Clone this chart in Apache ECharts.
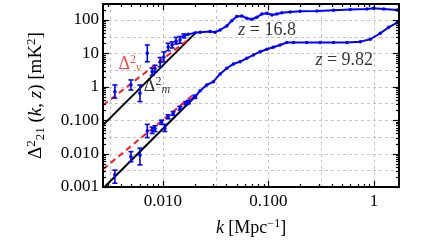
<!DOCTYPE html>
<html><head><meta charset="utf-8">
<script src="https://cdn.jsdelivr.net/npm/echarts@6/dist/echarts.min.js"></script>
<style>html,body{margin:0;padding:0;background:#fff}#c{width:432px;height:243px}</style>
</head><body><div id="c"></div>
<script>
// ---- axis ranges / tick labels ----
const xMin = 0.0027, xMax = 1.73, yMin = 0.001, yMax = 300;
const xTickLabels = [0.01, 0.1, 1];
const yTickLabels = [0.001, 0.01, 0.1, 1, 10, 100];

// ---- z = 16.8 simulated curve ----
const kHigh = [0.0158,0.0173,0.02,0.0225,0.0279,0.0312,0.0348,0.0403,0.0449,0.0501,0.0559,0.0623,0.0695,0.0776,0.0865,0.0966,0.108,0.120,0.134,0.161,0.200,0.288,0.414,0.597,0.859,0.993,1.24,1.66];
const dHigh = [33,37,41,43,45,43,50,66,95,126,132,112,105,120,151,158,141,151,165,174,182,186,195,204,214,224,214,199];

// ---- z = 9.82 simulated curve ----
const kLow = [0.0165,0.0201,0.0225,0.026,0.0301,0.0348,0.0403,0.0466,0.0538,0.0623,0.0721,0.0834,0.0966,0.111,0.129,0.149,0.173,0.231,0.309,0.414,0.555,0.743,0.925,1.15,1.38,1.66];
const dLow = [0.32,0.5,0.76,1.13,1.42,2.42,3.58,4.82,5.64,7.12,8.96,11.2,13.3,15.2,17.8,21,21,21,21,21,21,22.4,26.4,40,60,83];

// ---- measured points with error bars, z = 16.8 ----
const kErrHigh  = [0.0035,0.00497,0.00605,0.0071,0.0079,0.0084,0.0094,0.0102,0.0112,0.0122,0.0133,0.0145,0.0158];
const dErrHigh  = [0.71,1.13,0.64,10,2.8,3.5,5.5,7.8,15.5,17.8,23,25,33];
const loErrHigh = [0.46,0.80,0.36,5.6,2.2,2.8,4.0,5.5,12,14.5,19,20,29];
const hiErrHigh = [1.13,1.6,1.13,17.8,3.6,4.4,7.5,11,20,22,30,32,38];

// ---- measured points with error bars, z = 9.82 ----
const kErrLow  = [0.0035,0.00497,0.00605,0.0071,0.0079,0.0084,0.0097,0.0104,0.0112,0.0125,0.0145,0.0165,0.0174,0.0201];
const dErrLow  = [0.0023,0.0081,0.0091,0.0475,0.05,0.056,0.088,0.057,0.127,0.16,0.23,0.32,0.35,0.5];
const loErrLow = [0.0013,0.0057,0.0046,0.030,0.04,0.046,0.075,0.046,0.11,0.14,0.2,0.29,0.31,0.45];
const hiErrLow = [0.0032,0.0114,0.0145,0.075,0.062,0.068,0.1,0.075,0.145,0.18,0.26,0.36,0.39,0.56];

// ---- model power laws ----
const kModelM = [0.0027, 0.0209];
const dModelMHigh = [0.071, 44.7];
const dModelMLow = [0.0009, 0.57];
const kModelV = [0.0027, 0.018];
const dModelVHigh = [0.28, 28.3];
const kModelVLow = [0.0027, 0.0193];
const dModelVLow = [0.0034, 0.57];

// ---- build helpers ----
const zip = (a, b) => a.map((v, i) => [v, b[i]]);
const zipErr = (k, d, lo, hi) => k.map((v, i) => [v, d[i], lo[i], hi[i]]);
const BLUE = '#0000ff', RED = '#ff1a1a';
const SERIF = '"Liberation Serif", "DejaVu Serif", serif';

function logTicks(lo, hi) {
  const out = [];
  for (let d = Math.floor(Math.log10(lo)); d <= Math.ceil(Math.log10(hi)); d++) {
    for (let f = 1; f <= 9; f++) {
      const v = f * Math.pow(10, d);
      if (v >= lo * 0.999 && v <= hi * 1.001) out.push([v, f === 1 ? 1 : 0]);
    }
  }
  return out;
}
function halfDecades(lo, hi) {
  const out = [];
  for (let n = Math.floor(2 * Math.log10(lo)); n <= Math.ceil(2 * Math.log10(hi)); n++) {
    const v = Math.pow(10, n / 2);
    if (v > lo * 1.001 && v < hi * 0.999) out.push(v);
  }
  return out;
}

// decoration data: [x, y, kind, major]
const decoTicks = [];
logTicks(xMin, xMax).forEach(t => decoTicks.push([t[0], yMin, 0, t[1]]));
logTicks(yMin, yMax).forEach(t => decoTicks.push([xMin, t[0], 1, t[1]]));
const decoGrid = [];
halfDecades(xMin, xMax).forEach(v => decoGrid.push([v, yMin, 0]));
halfDecades(yMin, yMax).forEach(v => decoGrid.push([xMin, v, 1]));

const fmt = v => {
  const l = Math.log10(v);
  if (Math.abs(l - Math.round(l)) > 1e-6) return '';
  return v < 1 ? v.toFixed(3) : String(Math.round(v));
};

const chart = echarts.init(document.getElementById('c'), null, {renderer: 'canvas'});
chart.setOption({
  animation: false,
  backgroundColor: '#fff',
  grid: {left: 103, top: 4, width: 296, height: 183, show: true, borderColor: '#000', borderWidth: 2, backgroundColor: 'transparent', z: 20},
  xAxis: {
    type: 'log', logBase: 10, min: xMin, max: xMax,
    axisLine: {show: false}, axisTick: {show: false}, splitLine: {show: false},
    axisLabel: {formatter: fmt, showMinLabel: false, showMaxLabel: false, interval: 0, fontSize: 17, fontFamily: SERIF, color: '#000', margin: 6},
    name: '{i|k} [Mpc{sup|−1}]', nameLocation: 'middle', nameGap: 31,
    nameTextStyle: {fontSize: 18, fontFamily: SERIF, color: '#000',
      rich: {i: {fontStyle: 'italic', fontSize: 18, fontFamily: SERIF}, sup: {fontSize: 12, fontFamily: SERIF, padding: [0,0,8,0]}}}
  },
  yAxis: {
    type: 'log', logBase: 10, min: yMin, max: yMax,
    axisLine: {show: false}, axisTick: {show: false}, splitLine: {show: false},
    axisLabel: {formatter: fmt, showMinLabel: true, showMaxLabel: false, interval: 0, fontSize: 17, fontFamily: SERIF, color: '#000', margin: 4},
    name: 'Δ{sup|2}{sub|21} ({i|k}, {i|z}) [mK{sup|2}]', nameLocation: 'middle', nameGap: 56, nameRotate: 90,
    nameTextStyle: {fontSize: 19, fontFamily: SERIF, color: '#000',
      rich: {i: {fontStyle: 'italic', fontSize: 19, fontFamily: SERIF},
             sup: {fontSize: 13, fontFamily: SERIF, padding: [0,0,9,0]},
             sub: {fontSize: 13, fontFamily: SERIF, padding: [9,0,0,0]}}}
  },
  series: [
    {
      type: 'custom', name: 'grid', z: 1, silent: true, clip: false,
      data: decoGrid,
      renderItem(params, api) {
        const cs = params.coordSys;
        const style = {stroke: '#c4c4c4', lineWidth: 1, lineDash: [3, 3]};
        if (api.value(2) === 0) {
          const x = Math.round(api.coord([api.value(0), yMin])[0]) + 0.5;
          return {type: 'line', shape: {x1: x, y1: cs.y, x2: x, y2: cs.y + cs.height}, style};
        }
        const y = Math.round(api.coord([xMin, api.value(1)])[1]) + 0.5;
        return {type: 'line', shape: {x1: cs.x, y1: y, x2: cs.x + cs.width, y2: y}, style};
      }
    },
    {
      type: 'custom', name: 'ticks', z: 30, silent: true, clip: false,
      data: decoTicks,
      renderItem(params, api) {
        const cs = params.coordSys;
        const len = api.value(3) ? 6 : 3;
        const style = {stroke: '#000', lineWidth: 1.2};
        if (api.value(2) === 0) {
          const x = Math.round(api.coord([api.value(0), yMin])[0]) + 0.5;
          return {type: 'group', children: [
            {type: 'line', shape: {x1: x, y1: cs.y + cs.height, x2: x, y2: cs.y + cs.height - len}, style},
            {type: 'line', shape: {x1: x, y1: cs.y, x2: x, y2: cs.y + len}, style}
          ]};
        }
        const y = Math.round(api.coord([xMin, api.value(1)])[1]) + 0.5;
        return {type: 'group', children: [
          {type: 'line', shape: {x1: cs.x, y1: y, x2: cs.x + len, y2: y}, style},
          {type: 'line', shape: {x1: cs.x + cs.width, y1: y, x2: cs.x + cs.width - len, y2: y}, style}
        ]};
      }
    },
    {type: 'line', name: 'Δm high', data: zip(kModelM, dModelMHigh), showSymbol: false, lineStyle: {color: '#000', width: 2}, z: 5},
    {type: 'line', name: 'Δm low', data: zip(kModelM, dModelMLow), showSymbol: false, lineStyle: {color: '#000', width: 2}, z: 5},
    {type: 'line', name: 'Δv high', data: zip(kModelV, dModelVHigh), showSymbol: false, lineStyle: {color: RED, width: 2, type: [6, 4]}, z: 6},
    {type: 'line', name: 'Δv low', data: zip(kModelVLow, dModelVLow), showSymbol: false, lineStyle: {color: RED, width: 2, type: [6, 4]}, z: 6},
    {type: 'line', name: 'z16.8', data: zip(kHigh, dHigh), symbol: 'circle', symbolSize: 3.5, itemStyle: {color: BLUE}, lineStyle: {color: BLUE, width: 2}, z: 7},
    {type: 'line', name: 'z9.82', data: zip(kLow, dLow), symbol: 'circle', symbolSize: 3.5, itemStyle: {color: BLUE}, lineStyle: {color: BLUE, width: 2}, z: 7},
    ...[zipErr(kErrHigh, dErrHigh, loErrHigh, hiErrHigh), zipErr(kErrLow, dErrLow, loErrLow, hiErrLow)].map(d => ({
      type: 'custom', z: 8, data: d,
      renderItem(params, api) {
        const c = api.coord([api.value(0), api.value(1)]);
        const lo = api.coord([api.value(0), api.value(2)]);
        const hi = api.coord([api.value(0), api.value(3)]);
        const st = {stroke: BLUE, lineWidth: 1.6};
        return {type: 'group', children: [
          {type: 'line', shape: {x1: c[0], y1: lo[1], x2: c[0], y2: hi[1]}, style: st},
          {type: 'line', shape: {x1: c[0] - 2.5, y1: lo[1], x2: c[0] + 2.5, y2: lo[1]}, style: st},
          {type: 'line', shape: {x1: c[0] - 2.5, y1: hi[1], x2: c[0] + 2.5, y2: hi[1]}, style: st},
          {type: 'circle', shape: {cx: c[0], cy: c[1], r: 1.8}, style: {fill: BLUE}}
        ]};
      }
    })),
    {
      type: 'scatter', name: 'annotations', symbolSize: 0, z: 12, silent: true,
      data: [
        {value: [0.0973, 50], label: {formatter: '{i|z} = 16.8'}},
        {value: [0.524, 6.3], label: {formatter: '{i|z} = 9.82'}},
        {value: [0.00486, 4.8], label: {formatter: 'Δ{sup|2}{sub|v}', color: RED, rich: {
          sup: {fontSize: 12, color: RED, fontFamily: SERIF, padding: [0,0,8,0]},
          sub: {fontSize: 12, color: RED, fontStyle: 'italic', fontFamily: SERIF, padding: [8,0,0,0]}}}},
        {value: [0.00877, 1.06], label: {formatter: 'Δ{sup|2}{sub|m}'}}
      ],
      label: {show: true, position: 'inside', fontSize: 18, fontFamily: SERIF, color: '#000',
        rich: {i: {fontStyle: 'italic', fontSize: 18, fontFamily: SERIF},
               sup: {fontSize: 12, fontFamily: SERIF, padding: [0,0,8,0]},
               sub: {fontSize: 12, fontStyle: 'italic', fontFamily: SERIF, padding: [8,0,0,0]}}}
    }
  ]
});
</script></body></html>
